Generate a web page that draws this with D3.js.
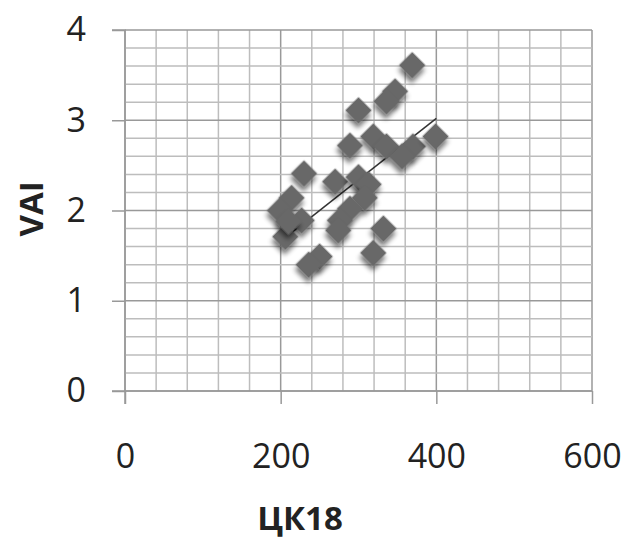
<!DOCTYPE html>
<html>
<head>
<meta charset="utf-8">
<script src="https://cdn.jsdelivr.net/npm/d3@7"></script>
<style>
  body { margin: 0; background: #fff; }
  svg text { font-family: "Open Sans", "DejaVu Sans", sans-serif; fill: #222; }
</style>
</head>
<body>
<svg id="chart" width="625" height="543"></svg>
<script>
// values
const ck18 = [369, 347, 336, 300, 319, 289, 336, 370, 399, 356,
              230, 270, 300, 313, 214, 308, 199, 289, 227, 276,
              206, 274, 332, 250, 236, 319, 210];
const vai  = [3.61, 3.32, 3.21, 3.11, 2.82, 2.72, 2.71, 2.71, 2.82, 2.60,
              2.41, 2.32, 2.37, 2.29, 2.14, 2.14, 2.00, 2.02, 1.89, 1.89,
              1.71, 1.78, 1.80, 1.49, 1.40, 1.53, 1.88];
const trendX = [203, 400];
const trendY = [1.68, 3.02];
const xTicks = [0, 200, 400, 600];
const yTicks = [0, 1, 2, 3, 4];

const svg = d3.select('#chart');
const x = d3.scaleLinear().domain([0, 600]).range([125, 592]);
const y = d3.scaleLinear().domain([0, 4]).range([391, 30]);

// shadow for the diamonds
const defs = svg.append('defs');
const f = defs.append('filter').attr('id', 'shadow')
  .attr('x', '-50%').attr('y', '-50%').attr('width', '200%').attr('height', '200%');
f.append('feGaussianBlur').attr('in', 'SourceAlpha').attr('stdDeviation', 2.5).attr('result', 'b');
f.append('feOffset').attr('in', 'b').attr('dx', 3).attr('dy', 4).attr('result', 'o');
f.append('feComponentTransfer').attr('in', 'o').attr('result', 's')
  .append('feFuncA').attr('type', 'linear').attr('slope', 0.55);
const m = f.append('feMerge');
m.append('feMergeNode').attr('in', 's');
m.append('feMergeNode').attr('in', 'SourceGraphic');

// minor grid
const grid = svg.append('g');
grid.selectAll('.vx')
  .data(d3.range(0, 601, 40))
  .enter().append('line')
  .attr('x1', d => x(d)).attr('x2', d => x(d))
  .attr('y1', y(4)).attr('y2', y(0))
  .attr('stroke', d => d % 200 === 0 ? '#999' : '#bdbdbd')
  .attr('stroke-width', 1.5);
grid.selectAll('.hy')
  .data(d3.range(0, 4.01, 0.2))
  .enter().append('line')
  .attr('x1', x(0)).attr('x2', x(600))
  .attr('y1', d => y(d)).attr('y2', d => y(d))
  .attr('stroke', d => Math.abs(d - Math.round(d)) < 1e-6 ? '#999' : '#bdbdbd')
  .attr('stroke-width', 1.5);

// axes
const yAxis = svg.append('g')
  .attr('transform', `translate(${x(0)},0)`)
  .call(d3.axisLeft(y).tickValues(yTicks).tickSize(13).tickPadding(26).tickFormat(d3.format('d')));
const xAxis = svg.append('g')
  .attr('transform', `translate(0,${y(0)})`)
  .call(d3.axisBottom(x).tickValues(xTicks).tickSize(13).tickPadding(40).tickFormat(d3.format('d')));
[yAxis, xAxis].forEach(a => {
  a.select('.domain').attr('stroke', '#999').attr('stroke-width', 1.5);
  a.selectAll('.tick line').attr('stroke', '#999').attr('stroke-width', 1.5);
  a.selectAll('text').attr('font-size', 34).attr('fill', '#222')
    .attr('font-family', '"Open Sans", sans-serif');
});
yAxis.select('.domain').attr('d', `M-13,${y(4)}H0V${y(0) + 13}`);
xAxis.select('.domain').attr('d', `M${x(0) - 13},0H${x(600)}`);

// trend line
svg.append('line')
  .attr('x1', x(trendX[0])).attr('y1', y(trendY[0]))
  .attr('x2', x(trendX[1])).attr('y2', y(trendY[1]))
  .attr('stroke', '#333').attr('stroke-width', 1.5);

// points
const pts = ck18.map((d, i) => ({ x: d, y: vai[i] }));
svg.append('g').selectAll('path')
  .data(pts)
  .enter().append('path')
  .attr('d', d3.symbol().type(d3.symbolSquare).size(350))
  .attr('transform', d => `translate(${x(d.x)},${y(d.y)}) rotate(45)`)
  .attr('fill', '#676767')
  .attr('filter', 'url(#shadow)');

// titles
svg.append('text')
  .attr('x', 300).attr('y', 530)
  .attr('text-anchor', 'middle')
  .attr('font-size', 33).attr('font-weight', 'bold')
  .text('ЦК18');
svg.append('text')
  .attr('transform', 'translate(43,209) rotate(-90)')
  .attr('text-anchor', 'middle')
  .attr('font-size', 33).attr('font-weight', 'bold')
  .text('VAI');
</script>
</body>
</html>
